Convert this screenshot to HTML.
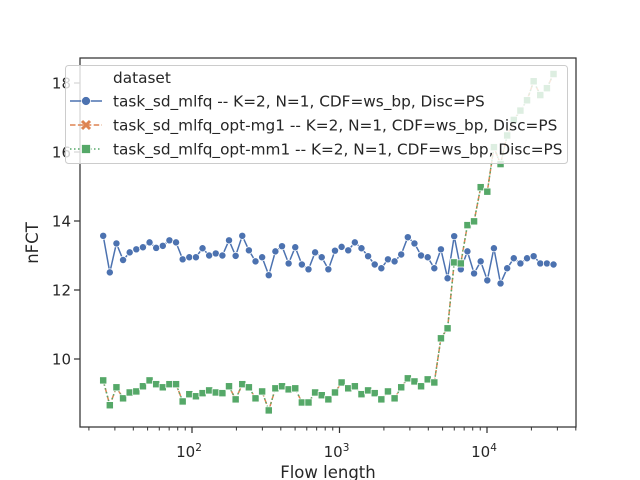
<!DOCTYPE html>
<html><head><meta charset="utf-8"><style>
html,body{margin:0;padding:0;background:#fff;}
svg{display:block;font-family:"DejaVu Sans","Liberation Sans",sans-serif;}
</style></head><body>
<svg id="chart" width="640" height="480" viewBox="0 0 640 480" xmlns="http://www.w3.org/2000/svg">
<rect x="0" y="0" width="640" height="480" fill="#fff"/>
<g id="plot"></g>
<g id="axes"></g>
<g id="legend"></g>
</svg>
<script>
const flowLengths = [25,26.5,28,29.6,31.4,33.2,35.2,37.3,39.5,41.8,44.3,46.9,49.7,52.6,55.7,59,62.5,66.2,70.1,74.2,78.6,83.3,88.2,93.4,98.9,104.8,111,117.5,124.5,131.8,139.6,147.9,156.6,165.9,175.7,186.1,197.1,208.7,221,234.1,248,262.6,278.1,294.6,312,330.5,350,370.7,392.6,415.8,440.4,466.4,494,523.2,554.2,586.9,621.6,658.4,697.3,738.5,782.2,828.4,877.4,929.3,984.2,1042,1104,1169,1238];
const mlfq = [13.57,12.51,13.35,12.87,13.09,13.18,13.24,13.38,13.22,13.28,13.44,13.38,12.89,12.95,12.95,13.21,13.0,13.06,13.0,13.44,12.99,13.57,13.15,12.83,12.95,12.43,13.12,13.27,12.77,13.24,12.74,12.6,13.09,12.95,12.6,13.14,13.25,13.15,13.38,13.21,12.98,12.74,12.63,12.89,12.83,13.03,13.53,13.35,13.0,12.95,12.63,13.18,12.34,13.56,12.6,13.12,12.48,12.83,12.28,13.21,12.19,12.63,12.92,12.77,12.92,12.98,12.77,12.77,12.74];
const optMm1 = [9.38,8.66,9.18,8.86,9.03,9.06,9.21,9.38,9.27,9.18,9.27,9.27,8.77,8.98,8.92,9.01,9.09,9.03,9.01,9.21,8.83,9.27,9.18,8.86,9.06,8.51,9.15,9.21,9.12,9.15,8.74,8.74,9.03,8.95,8.83,9.03,9.32,9.15,9.21,8.98,9.09,9.01,8.83,9.06,8.86,9.18,9.44,9.35,9.21,9.41,9.32,10.6,10.89,12.8,12.77,13.88,13.99,14.98,14.85,16.14,15.65,16.48,16.93,17.2,17.5,18.05,17.65,17.85,18.26];
const optMg1 = optMm1.slice();
const yTicks = [10,12,14,16,18];
const xTickExps = [2,3,4];
const legendLabels = ["task_sd_mlfq -- K=2, N=1, CDF=ws_bp, Disc=PS","task_sd_mlfq_opt-mg1 -- K=2, N=1, CDF=ws_bp, Disc=PS","task_sd_mlfq_opt-mm1 -- K=2, N=1, CDF=ws_bp, Disc=PS"];

const NS="http://www.w3.org/2000/svg";
const L=80,R=576,T=58,B=427;
const xScale = v => 192 + (Math.log10(v)-2)*147.5;
const yScale = v => 359 - (v-10)*34.5;
function mk(tag,attrs,parent){const e=document.createElementNS(NS,tag);for(const k in attrs)e.setAttribute(k,attrs[k]);parent.appendChild(e);return e;}
const plot=document.getElementById('plot'), axes=document.getElementById('axes'), leg=document.getElementById('legend');
const xs = flowLengths.map((v,i)=>Math.pow(10, Math.log10(25) + i*(Math.log10(28250)-Math.log10(25))/(flowLengths.length-1)));
const px = i => xScale(xs[i]);

function drawLine(vals,color,dash,name){
  const d = vals.map((v,i)=>(i?'L':'M')+px(i).toFixed(1)+','+yScale(v).toFixed(1)).join('');
  const p=mk('path',{d:d,fill:'none',stroke:color,'stroke-width':1.5,'stroke-dasharray':dash,'stroke-linejoin':'round'},plot);
  
  
}
drawLine(mlfq,'#4c72b0','','mlfq-line');
drawLine(optMg1,'#dd8452','5.5,2.4','opt-mg1-line');
drawLine(optMm1,'#55a868','1.5,2.5','opt-mm1-line');
mlfq.forEach((v,i)=>{
  const c=mk('circle',{cx:px(i),cy:yScale(v),r:3.6,fill:'#4c72b0',stroke:'#fff','stroke-width':0.75},plot);
  
  
});
optMg1.forEach((v,i)=>{
  const x=px(i),y=yScale(v);
  const c=mk('path',{d:`M${x-3},${y-3}L${x+3},${y+3}M${x-3},${y+3}L${x+3},${y-3}`,stroke:'#dd8452','stroke-width':2.5},plot);
  
  
});
optMm1.forEach((v,i)=>{
  const c=mk('rect',{x:px(i)-3.6,y:yScale(v)-3.6,width:7.2,height:7.2,fill:'#55a868',stroke:'#fff','stroke-width':0.75},plot);
  
  
});

const sp=mk('rect',{x:L,y:T,width:R-L,height:B-T,fill:'none',stroke:'#333','stroke-width':1.25},axes);


yTicks.forEach(t=>{
  const y=yScale(t);
  mk('line',{x1:L-6,x2:L,y1:y,y2:y,stroke:'#333','stroke-width':1.25},axes);
  const tx=mk('text',{x:L-9,y:y+5.5,'text-anchor':'end','font-size':15,fill:'#262626'},axes);
  tx.textContent=t;
  
  
});
for(let e=1;e<=4;e++){for(let m=1;m<10;m++){
  const x=xScale(m*Math.pow(10,e));
  if(x<L||x>R)continue;
  mk('line',{x1:x,x2:x,y1:B,y2:B+(m===1?6:3.5),stroke:'#333','stroke-width':m===1?1.25:1},axes);
}}
xTickExps.forEach(e=>{
  const x=xScale(Math.pow(10,e));
  const tx=mk('text',{x:x-3,y:B+30,'text-anchor':'middle','font-size':15,fill:'#262626'},axes);
  tx.textContent='10';
  const s=mk('tspan',{'font-size':10.5,dy:-6},tx);
  s.textContent=e;
  
  
});
const xt=mk('text',{x:328,y:478,'text-anchor':'middle','font-size':16.5,fill:'#262626'},axes);
xt.textContent='Flow length';


const yt=mk('text',{x:38,y:243,'text-anchor':'middle','font-size':16.5,fill:'#262626',transform:'rotate(-90 38 243)'},axes);
yt.textContent='nFCT';



const lb=mk('rect',{x:65.5,y:65.5,width:502,height:98,rx:3,fill:'#fff','fill-opacity':0.8,stroke:'#ccc','stroke-width':1},leg);


const lt=mk('text',{x:113,y:83,'font-size':15.3,fill:'#262626'},leg);
lt.textContent='dataset';


const colors=['#4c72b0','#dd8452','#55a868'], dashes=['','5.5,2.4','1.5,2.5'];
legendLabels.forEach((lab,i)=>{
  const y=101+i*24;
  const g=mk('g',{},leg);
  
  
  mk('line',{x1:70,x2:102,y1:y,y2:y,stroke:colors[i],'stroke-width':1.5,'stroke-dasharray':dashes[i]},g);
  if(i===0) mk('circle',{cx:86,cy:y,r:4.5,fill:colors[i],stroke:'#fff','stroke-width':0.75},g);
  if(i===1) mk('path',{d:`M82,${y-4}L90,${y+4}M82,${y+4}L90,${y-4}`,stroke:colors[i],'stroke-width':3},g);
  if(i===2) mk('rect',{x:81.5,y:y-4.5,width:9,height:9,fill:colors[i],stroke:'#fff','stroke-width':0.75},g);
  const t=mk('text',{x:113,y:y+5.5,'font-size':15.3,fill:'#262626'},g);
  t.textContent=lab;
});
</script>
</body></html>
